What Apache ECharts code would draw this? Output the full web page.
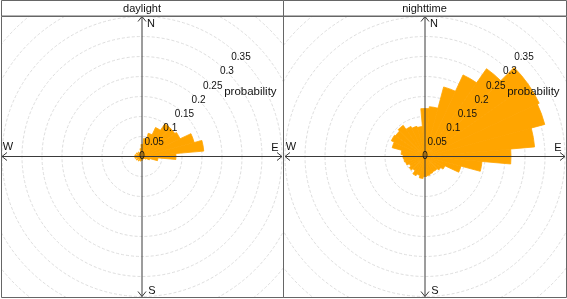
<!DOCTYPE html>
<html><head><meta charset="utf-8">
<script src="https://cdn.jsdelivr.net/npm/echarts@6/dist/echarts.min.js"></script>
<style>html,body{margin:0;padding:0;background:#fff}#c{width:567px;height:299px}</style>
</head><body><div id="c"></div>
<script>
// ---- data ----
const panelTitles = ['daylight', 'nighttime'];
const directions = [0,10,20,30,40,50,60,70,80,90,100,110,120,130,140,150,160,170,180,190,200,210,220,230,240,250,260,270,280,290,300,310,320,330,340,350];
const daylight = [0.03,0.045,0.06,0.08,0.1,0.1,0.105,0.135,0.155,0.085,0.04,0.02,0.012,0.008,0.006,0.006,0.007,0.008,0.01,0.008,0.012,0.008,0.014,0.009,0.016,0.01,0.018,0.012,0.018,0.01,0.016,0.01,0.014,0.008,0.012,0.02];
const nighttime = [0.12,0.125,0.18,0.225,0.268,0.315,0.315,0.31,0.275,0.215,0.143,0.093,0.055,0.048,0.043,0.043,0.045,0.048,0.05,0.055,0.048,0.053,0.043,0.048,0.043,0.05,0.053,0.055,0.06,0.085,0.093,0.09,0.095,0.083,0.078,0.075];
const ringValues = [0.05,0.1,0.15,0.2,0.25,0.3,0.35,0.4,0.45];
const tickValues = [0,0.05,0.1,0.15,0.2,0.25,0.3,0.35];
const tickLabels = ['0','0.05','0.1','0.15','0.2','0.25','0.3','0.35'];
const compassLabels = ['N','E','S','W'];
const radialTitle = 'probability';
const series_values = [daylight, nighttime];

// ---- layout ----
const FONT = 'Liberation Sans, Arial, sans-serif';
const PX_PER_UNIT = 400;
const panelRects = [{x:1, y:16, w:282, h:281}, {x:283, y:16, w:283, h:281}];
const sectorWidth = 10;
const AXIS_R = 0.35;

const chart = echarts.init(document.getElementById('c'), null, {renderer:'canvas'});
const grids = [], xAxes = [], yAxes = [], series = [], graphics = [];

panelRects.forEach((p, k) => {
  grids.push({left:p.x, top:p.y, width:p.w, height:p.h, containLabel:false, show:false});
  const cx = Math.round(p.w/2);
  xAxes.push({gridIndex:k, type:'value', min:-cx/PX_PER_UNIT, max:(p.w-cx)/PX_PER_UNIT, show:false});
  yAxes.push({gridIndex:k, type:'value', min:-(p.h/2)/PX_PER_UNIT, max:(p.h/2)/PX_PER_UNIT, show:false});

  // rings
  series.push({
    type:'custom', xAxisIndex:k, yAxisIndex:k, clip:true, silent:true, z:1,
    data: ringValues.map(v => [v, 0]),
    renderItem: (params, api) => {
      const c = api.coord([0,0]);
      const r = api.size([api.value(0), 0])[0];
      return {type:'circle', shape:{cx:c[0], cy:c[1], r:r},
        style:{fill:'none', stroke:'#dedede', lineWidth:1, lineDash:[3,2]}};
    }
  });
  // wedges
  const vals = series_values[k];
  series.push({
    type:'custom', xAxisIndex:k, yAxisIndex:k, clip:true, silent:true, z:2,
    data: directions.map((d, i) => [vals[i], d]),
    encode:{x:0, y:-1},
    renderItem: (params, api) => {
      const v = api.value(0), d = api.value(1);
      const c = api.coord([0,0]);
      const r = api.size([v, 0])[0];
      return {type:'sector', shape:{cx:c[0], cy:c[1], r0:0, r:r,
          startAngle:(d - sectorWidth/2 - 90)*Math.PI/180,
          endAngle:(d + sectorWidth/2 - 90)*Math.PI/180, clockwise:true},
        style:{fill:'#FFA500', stroke:'#FFA500', lineWidth:0.8}};
    }
  });
  // axes with arrows, labels
  series.push({
    type:'custom', xAxisIndex:k, yAxisIndex:k, clip:false, silent:true, z:3,
    data:[[0,0]],
    renderItem: (params, api) => {
      const c = api.coord([0,0]);
      const R = api.size([AXIS_R, 0])[0];
      const col = '#3a3a3a';
      const ch = [];
      const dirs = [[0,-1],[1,0],[0,1],[-1,0]];
      dirs.forEach(([dx,dy]) => {
        const tx = c[0] + dx*R, ty = c[1] + dy*R;
        ch.push({type:'line', shape:{x1:c[0], y1:c[1], x2:tx, y2:ty}, style:{stroke:col, lineWidth:1}});
        const bx = tx - dx*5, by = ty - dy*5;
        ch.push({type:'polyline', shape:{points:[[bx - dy*4, by + dx*4],[tx,ty],[bx + dy*4, by - dx*4]]},
          style:{stroke:col, fill:'none', lineWidth:1}});
      });
      // compass labels
      const lp = [[9,-133],[133,-9],[10,134],[-134,-10]];
      compassLabels.forEach((t, i) => {
        ch.push({type:'text', style:{text:t, x:c[0]+lp[i][0], y:c[1]+lp[i][1], align:'center', verticalAlign:'middle',
          font:'11px '+FONT, fill:'#111'}});
      });
      // tick labels at 45 deg
      tickValues.forEach((v, i) => {
        const rr = api.size([v, 0])[0];
        let px = c[0] + rr*Math.SQRT1_2, py = c[1] - rr*Math.SQRT1_2;
        if (i === 0) { px = c[0]; py = c[1]; }
        if (i === 1) { px -= 2; }
        ch.push({type:'text', style:{text:tickLabels[i], x:px, y:py, align:'center', verticalAlign:'middle',
          font:'10px '+FONT, fill:'#111'}});
      });
      const pr = api.size([0.3155, 0])[0];
      ch.push({type:'text', style:{text:radialTitle, x:c[0] + pr*0.859, y:c[1] - pr*0.512, align:'center', verticalAlign:'middle',
        font:'11.5px '+FONT, fill:'#111'}});
      return {type:'group', children:ch};
    }
  });

  // strip header
  graphics.push({type:'rect', shape:{x:p.x+0.5, y:0.5, width:p.w, height:15.5}, style:{fill:'#fff', stroke:'#666', lineWidth:1}, z:10});
  graphics.push({type:'text', style:{text:panelTitles[k], x:p.x + p.w/2, y:8.5, align:'center', verticalAlign:'middle', font:'11px '+FONT, fill:'#111'}, z:11});
  graphics.push({type:'rect', shape:{x:p.x+0.5, y:16.5, width:p.w, height:p.h}, style:{fill:'none', stroke:'#666', lineWidth:1}, z:10});
});

chart.setOption({
  animation:false,
  backgroundColor:'#fff',
  grid:grids, xAxis:xAxes, yAxis:yAxes, series:series, graphic:graphics
});
</script></body></html>
